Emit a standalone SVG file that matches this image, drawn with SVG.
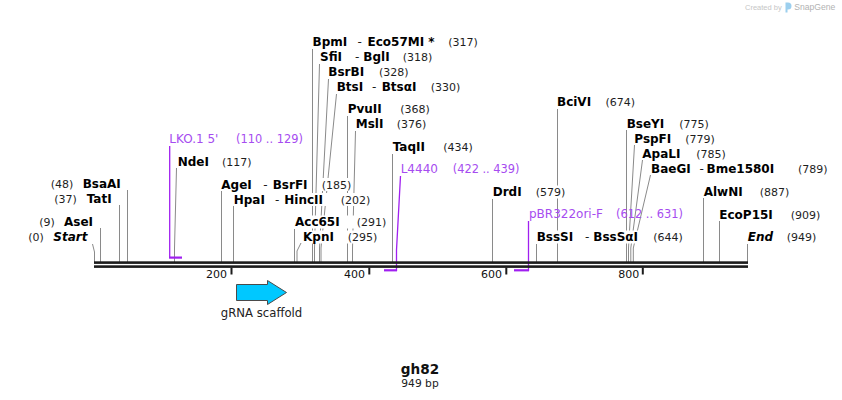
<svg xmlns="http://www.w3.org/2000/svg" width="842" height="400" viewBox="0 0 842 400">
<style>
text{font-family:"DejaVu Sans",Verdana,sans-serif}
.n{font-size:12px;font-weight:bold;fill:#000}
.i{font-size:12px;font-weight:bold;font-style:italic;fill:#000}
.p{font-size:11px;fill:#1e1e1e}
.d{font-size:12px;fill:#1e1e1e}
.bg{fill:#fff}
.pt{font-size:12px;fill:#a64cf0}
.pn{font-size:11.4px;fill:#a64cf0}
.tk{font-size:11px;fill:#111;text-anchor:end}
.cl{fill:none;stroke:#8a8a8a;stroke-width:1}
.pl{fill:none;stroke:#a020f0;stroke-width:1.3}
.pb{fill:#a020f0}
.bb{fill:#1c1c1c}
</style>
<rect width="842" height="400" fill="#fff"/>
<g id="watermark">
<text x="745" y="10" style="font-family:'Liberation Sans',Arial,sans-serif;font-size:7.5px;fill:#c6c6c6">Created by</text>
<path d="M785.5 2.5h2.5a3.5 3.5 0 0 1 0 7h-0.5v3h-2z" fill="#9ccfee"/>
<text x="794.3" y="10" style="font-family:'Liberation Sans',Arial,sans-serif;font-size:8.6px;fill:#b2b2b2">SnapGene</text>
</g>
<g id="connectors">
<path class="cl" d="M92.5 244L94.5 252V262"/>
<path class="cl" d="M100.5 228V262"/>
<path class="cl" d="M119.5 205V262"/>
<path class="cl" d="M127.5 190V262"/>
<path class="cl" d="M176.5 168L174.5 248V262"/>
<path class="cl" d="M221.5 191V262"/>
<path class="cl" d="M233.5 206V262"/>
<path class="cl" d="M294.5 229V262"/>
<path class="cl" d="M301 243L297 251V262"/>
<path class="cl" d="M312.5 49V262"/>
<path class="cl" d="M319.5 64L314.5 248V262"/>
<path class="cl" d="M328.5 79L319.5 248V262"/>
<path class="cl" d="M336.5 94L321 248V262"/>
<path class="cl" d="M347.5 116V262"/>
<path class="cl" d="M355.5 131L352.5 248V262"/>
<path class="cl" d="M392.5 154V262"/>
<path class="cl" d="M492.5 199V262"/>
<path class="cl" d="M536.5 244V262"/>
<path class="cl" d="M557.5 109V262"/>
<path class="cl" d="M626.5 130V262"/>
<path class="cl" d="M634.5 145L628.5 248V262"/>
<path class="cl" d="M642.5 160L630.8 248V262"/>
<path class="cl" d="M650.5 175L633.3 248V262"/>
<path class="cl" d="M703.5 198V262"/>
<path class="cl" d="M719.5 221V262"/>
<path class="cl" d="M747.5 244V262"/>
<path class="pl" d="M169.7 146V257"/>
<path class="pl" d="M400.5 176L396.5 250V271"/>
<path class="pl" d="M528.5 221V271"/>
</g>
<g id="backbone">
<rect class="bb" x="94" y="261.3" width="654" height="2.6"/>
<rect class="bb" x="94" y="265.3" width="654" height="2.6"/>
<rect class="bb" x="230.5" y="267.5" width="2" height="7"/>
<rect class="bb" x="368.3" y="267.5" width="2" height="7"/>
<rect class="bb" x="505.3" y="267.5" width="2" height="7"/>
<rect class="bb" x="641.8" y="267.5" width="2" height="7"/>
<text class="tk" x="227" y="277.5">200</text>
<text class="tk" x="365" y="277.5">400</text>
<text class="tk" x="502" y="277.5">600</text>
<text class="tk" x="639.3" y="277.5">800</text>
</g>
<g id="start"><rect class="bg" x="27" y="230" width="61" height="13"/><text y="240.7"><tspan class="p" x="28.3">(0)</tspan><tspan class="i" x="53.3">Start</tspan></text></g>
<g id="AseI"><rect class="bg" x="38" y="215.5" width="57" height="13"/><text y="226"><tspan class="p" x="39.3">(9)</tspan><tspan class="n" x="64">AseI</tspan></text></g>
<g id="TatI"><rect class="bg" x="53" y="193" width="61" height="13"/><text y="203.3"><tspan class="p" x="54.3">(37)</tspan><tspan class="n" x="86.7">TatI</tspan></text></g>
<g id="BsaAI"><rect class="bg" x="49.5" y="178" width="73" height="13"/><text y="188.3"><tspan class="p" x="50.7">(48)</tspan><tspan class="n" x="82.7">BsaAI</tspan></text></g>
<g id="NdeI"><rect class="bg" x="177" y="155.5" width="76" height="13"/><text y="166"><tspan class="n" x="177.7">NdeI</tspan><tspan class="p" x="222">(117)</tspan></text></g>
<g id="AgeI"><rect class="bg" x="221" y="178" width="90" height="13"/><rect class="bg" x="321" y="178" width="31" height="13"/><text y="188.5"><tspan class="n" x="221.3">AgeI</tspan><tspan class="d" x="263.3">-</tspan><tspan class="n" x="272.7">BsrFI</tspan><tspan class="p" x="321.7">(185)</tspan></text></g>
<g id="HpaI"><rect class="bg" x="233" y="193" width="138" height="13"/><text y="203.5"><tspan class="n" x="233.7">HpaI</tspan><tspan class="d" x="275">-</tspan><tspan class="n" x="284.3">HincII</tspan><tspan class="p" x="340.7">(202)</tspan></text></g>
<g id="Acc65I"><rect class="bg" x="294" y="215.5" width="93" height="13"/><text y="226"><tspan class="n" x="295">Acc65I</tspan><tspan class="p" x="356.7">(291)</tspan></text></g>
<g id="KpnI"><rect class="bg" x="302" y="230.5" width="76" height="13"/><text y="241"><tspan class="n" x="303">KpnI</tspan><tspan class="p" x="347.7">(295)</tspan></text></g>
<g id="BpmI"><rect class="bg" x="312" y="35.5" width="167" height="13"/><text y="46"><tspan class="n" x="312.5">BpmI</tspan><tspan class="d" x="357.5">-</tspan><tspan class="n" x="367.5">Eco57MI *</tspan><tspan class="p" x="448.3">(317)</tspan></text></g>
<g id="SfiI"><rect class="bg" x="319.5" y="50.5" width="114" height="13"/><text y="61"><tspan class="n" x="320">SfiI</tspan><tspan class="d" x="355">-</tspan><tspan class="n" x="363.3">BglI</tspan><tspan class="p" x="402.7">(318)</tspan></text></g>
<g id="BsrBI"><rect class="bg" x="327.8" y="65.5" width="82" height="13"/><text y="76"><tspan class="n" x="328.3">BsrBI</tspan><tspan class="p" x="379">(328)</tspan></text></g>
<g id="BtsI"><rect class="bg" x="336" y="80.5" width="125" height="13"/><text y="91"><tspan class="n" x="336.7">BtsI</tspan><tspan class="d" x="372">-</tspan><tspan class="n" x="381.7">BtsαI</tspan><tspan class="p" x="430.7">(330)</tspan></text></g>
<g id="PvuII"><rect class="bg" x="347" y="102.5" width="84" height="13"/><text y="113"><tspan class="n" x="347.7">PvuII</tspan><tspan class="p" x="400.3">(368)</tspan></text></g>
<g id="MslI"><rect class="bg" x="355" y="117.5" width="72" height="13"/><text y="128"><tspan class="n" x="355.7">MslI</tspan><tspan class="p" x="396.7">(376)</tspan></text></g>
<g id="TaqII"><rect class="bg" x="392" y="140.5" width="82" height="13"/><text y="151"><tspan class="n" x="392.7">TaqII</tspan><tspan class="p" x="443.3">(434)</tspan></text></g>
<g id="DrdI"><rect class="bg" x="492" y="185.5" width="74" height="13"/><text y="196"><tspan class="n" x="492.7">DrdI</tspan><tspan class="p" x="535.7">(579)</tspan></text></g>
<g id="BssSI"><rect class="bg" x="536" y="230.5" width="148" height="13"/><text y="241"><tspan class="n" x="536.7">BssSI</tspan><tspan class="d" x="585">-</tspan><tspan class="n" x="593.3">BssSαI</tspan><tspan class="p" x="653.3">(644)</tspan></text></g>
<g id="BciVI"><rect class="bg" x="556.5" y="95" width="79" height="13"/><text y="105.5"><tspan class="n" x="557">BciVI</tspan><tspan class="p" x="605.5">(674)</tspan></text></g>
<g id="BseYI"><rect class="bg" x="626" y="117" width="84" height="13"/><text y="127.5"><tspan class="n" x="626.7">BseYI</tspan><tspan class="p" x="679.3">(775)</tspan></text></g>
<g id="PspFI"><rect class="bg" x="633.8" y="132" width="82" height="13"/><text y="142.5"><tspan class="n" x="634.3">PspFI</tspan><tspan class="p" x="685.3">(779)</tspan></text></g>
<g id="ApaLI"><rect class="bg" x="641.8" y="147" width="85" height="13"/><text y="157.5"><tspan class="n" x="642.3">ApaLI</tspan><tspan class="p" x="696.3">(785)</tspan></text></g>
<g id="BaeGI"><rect class="bg" x="650.5" y="162" width="178" height="13"/><text y="172.5"><tspan class="n" x="651">BaeGI</tspan><tspan class="d" x="699.5">-</tspan><tspan class="n" x="706.5">Bme1580I</tspan><tspan class="p" x="798">(789)</tspan></text></g>
<g id="AlwNI"><rect class="bg" x="703.2" y="185" width="87" height="13"/><text y="195.5"><tspan class="n" x="703.7">AlwNI</tspan><tspan class="p" x="759.7">(887)</tspan></text></g>
<g id="EcoP15I"><rect class="bg" x="718.8" y="208" width="102" height="13"/><text y="218.5"><tspan class="n" x="719.3">EcoP15I</tspan><tspan class="p" x="790.7">(909)</tspan></text></g>
<g id="end"><rect class="bg" x="747.2" y="230.5" width="70" height="13"/><text y="241"><tspan class="i" x="747.7">End</tspan><tspan class="p" x="786.7">(949)</tspan></text></g>
<g id="LKO1-5"><rect class="pb" x="169" y="256.5" width="13" height="2.2"/><text y="143"><tspan class="pt" x="169.3">LKO.1 5'</tspan><tspan class="pn" x="236">(110 .. 129)</tspan></text></g>
<g id="L4440"><rect class="pb" x="384" y="269.2" width="13" height="2.2"/><text y="172.7"><tspan class="pt" x="400.7">L4440</tspan><tspan class="pn" x="452.7">(422 .. 439)</tspan></text></g>
<g id="pBR322ori-F"><rect class="pb" x="514" y="269.2" width="15" height="2.2"/><text y="217.7"><tspan class="pt" x="529">pBR322ori-F</tspan><tspan class="pn" x="616">(612 .. 631)</tspan></text></g>
<g id="gRNA-scaffold">
<polygon points="236.5,284.5 267.5,284.5 267.5,280.5 286.5,292.5 267.5,304.5 267.5,300.5 236.5,300.5" fill="#00c8ff" stroke="#4a4a4a" stroke-width="1"/>
<text x="261.5" y="317" text-anchor="middle" style="font-size:11.7px;fill:#222">gRNA scaffold</text>
</g>
<g id="title">
<text x="420" y="374.3" text-anchor="middle" style="font-size:13.6px;font-weight:bold;fill:#111">gh82</text>
<text x="420" y="387" text-anchor="middle" style="font-size:10.7px;fill:#222">949 bp</text>
</g>
</svg>
